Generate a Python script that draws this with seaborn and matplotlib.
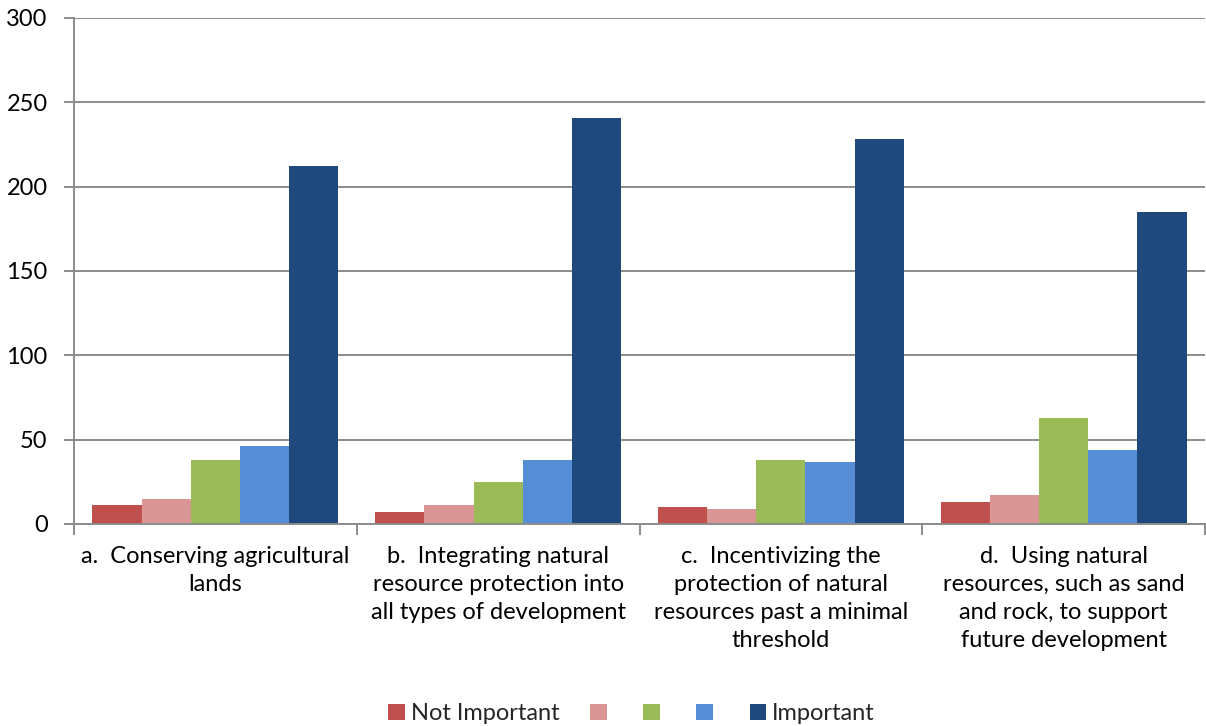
import matplotlib
matplotlib.use("Agg")
import matplotlib.pyplot as plt
import pandas as pd
import seaborn as sns

# chart values
categories = [
    "a.  Conserving agricultural\nlands",
    "b.  Integrating natural\nresource protection into\nall types of development",
    "c.  Incentivizing the\nprotection of natural\nresources past a minimal\nthreshold",
    "d.  Using natural\nresources, such as sand\nand rock, to support\nfuture development",
]
levels = ["1", "2", "3", "4", "5"]
legend_labels = ["Not Important", "", "", "", "Important"]
level_1 = [11, 7, 10, 13]
level_2 = [15, 11, 9, 17]
level_3 = [38, 25, 38, 63]
level_4 = [46, 38, 37, 44]
level_5 = [212, 241, 228, 185]
colors = ["#C0504D", "#DA9694", "#9BBB59", "#558ED5", "#1F497D"]
y_ticks = [0, 50, 100, 150, 200, 250, 300]

rows = []
for lvl, vals in zip(levels, [level_1, level_2, level_3, level_4, level_5]):
    for cat, v in zip(categories, vals):
        rows.append({"category": cat, "level": lvl, "count": v})
df = pd.DataFrame(rows)

sns.set_style("white")
plt.rcParams["font.family"] = ["Lato", "DejaVu Sans"]

fig = plt.figure(figsize=(12.06, 7.26), dpi=100)
ax = fig.add_axes([74 / 1206, 1 - 524 / 726, 1131 / 1206, 506 / 726])

sns.barplot(data=df, x="category", y="count", hue="level", order=categories,
            hue_order=levels, palette=colors, width=0.87, saturation=1,
            edgecolor="none", linewidth=0, ax=ax, legend=True)

grid_c = "#8C8C8C"
ax.set_ylim(0, 300)
ax.set_xlim(-0.5, 3.5)
ax.set_yticks(y_ticks)
ax.yaxis.grid(True, color=grid_c, linewidth=1.4)
ax.set_axisbelow(True)
for s in ["top", "right"]:
    ax.spines[s].set_visible(False)
ax.spines["left"].set_color(grid_c)
ax.spines["left"].set_linewidth(1.4)
ax.spines["bottom"].set_color(grid_c)
ax.spines["bottom"].set_linewidth(1.4)

ax.tick_params(axis="y", which="major", left=True, length=7, color=grid_c,
               width=1.4, labelsize=17, pad=12, labelcolor="black")
ax.tick_params(axis="x", which="major", length=0, labelsize=17, pad=16,
               labelcolor="black")
ax.set_xticks([-0.5, 0.5, 1.5, 2.5, 3.5], minor=True)
ax.tick_params(axis="x", which="minor", bottom=True, length=8, color=grid_c,
               width=1.4)
for lbl in ax.get_xticklabels():
    lbl.set_linespacing(1.4)
ax.set_xlabel("")
ax.set_ylabel("")

handles, _ = ax.get_legend_handles_labels()
ax.legend(handles, legend_labels, loc="center",
          bbox_to_anchor=(0.493, -0.375), ncol=5, frameon=False, fontsize=17,
          handlelength=0.7, handleheight=0.7, handletextpad=0.25,
          columnspacing=1.3, borderpad=0)

fig.savefig("out.png", dpi=100)
